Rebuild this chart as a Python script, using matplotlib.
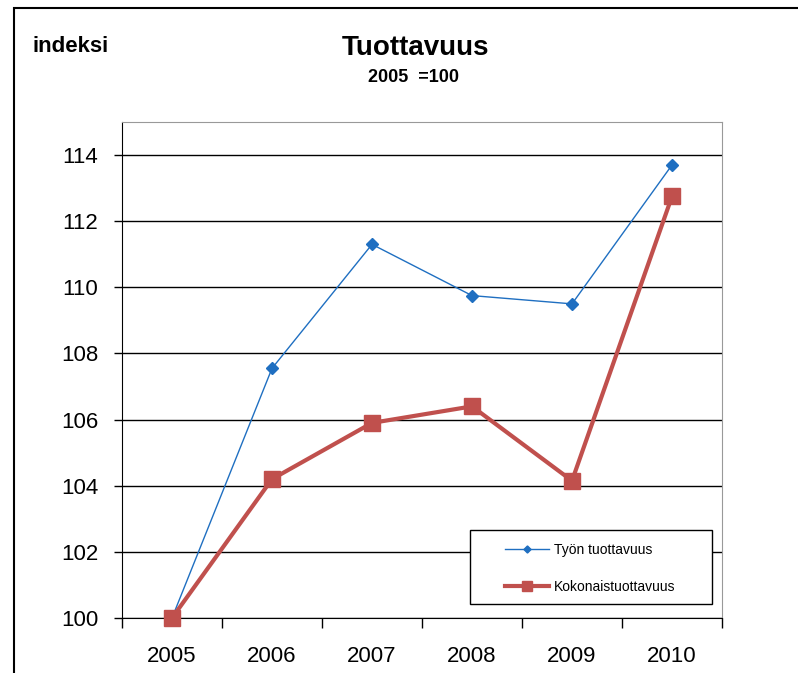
import numpy as np
import matplotlib.pyplot as plt
from matplotlib.patches import Rectangle

plt.rcParams['font.family'] = ['Liberation Sans', 'DejaVu Sans']

#%%------------------------ DATA ----------------------------------------------
years = ['2005', '2006', '2007', '2008', '2009', '2010']
tyon = [100.0, 107.55, 111.3, 109.75, 109.5, 113.7]
kokonais = [100.0, 104.2, 105.9, 106.4, 104.15, 112.75]
labels = ['Työn tuottavuus', 'Kokonaistuottavuus']
colors = ['#1f6fc1', '#c0504d']
#-----------------------------------------------------------------------------

W, H = 798, 673
fig = plt.figure(figsize=(W / 100, H / 100), dpi=100)
ax = fig.add_axes([122 / W, 1 - 618 / H, 600 / W, 496 / H])

# outer chart frame (left and top edges visible)
fig.patches.append(Rectangle((14 / W, -0.1), 1.2, 1.1 - 8 / H, transform=fig.transFigure,
                             fill=False, edgecolor='black', linewidth=1.5))

x = np.arange(len(years))
ax.plot(x, tyon, color=colors[0], linewidth=1, marker='D', markersize=6,
        label=labels[0], clip_on=False, zorder=3)
ax.plot(x, kokonais, color=colors[1], linewidth=3, marker='s', markersize=12,
        label=labels[1], clip_on=False, zorder=3)

ax.set_xlim(-0.5, len(years) - 0.5)
ax.set_ylim(100, 115)
ax.set_yticks(np.arange(100, 115, 2))
ax.set_xticks(x)
ax.set_xticklabels(years)
ax.set_xticks(np.arange(-0.5, len(years)), minor=True)
ax.tick_params(axis='x', which='major', length=0, pad=20, labelsize=16)
ax.tick_params(axis='x', which='minor', length=7, width=1, direction='out')
ax.tick_params(axis='y', length=6, width=1, direction='out', labelsize=16, pad=11)
ax.grid(axis='y', color='black', linewidth=1)
ax.set_axisbelow(True)

for s in ['top', 'right']:
    ax.spines[s].set_color('#999999')
ax.spines['left'].set_color('black')
ax.spines['bottom'].set_color('black')

# legend box drawn separately so the entries can sit indented like the original
ax.add_patch(Rectangle((0.58, 0.0282), 0.4033, 0.1492, transform=ax.transAxes,
                       facecolor='white', edgecolor='black', linewidth=1, zorder=4))
leg = ax.legend(loc='upper left', bbox_to_anchor=(0.638, 0.151), frameon=False,
                fontsize=10, markerscale=0.6, handlelength=3.2, handletextpad=0.35,
                labelspacing=1.65, borderpad=0, borderaxespad=0)
leg.set_zorder(5)

fig.text(33 / W, 1 - 46 / H, 'indeksi', fontsize=16, fontweight='bold', va='center', ha='left')
fig.text(415 / W, 1 - 48 / H, 'Tuottavuus', fontsize=20, fontweight='bold', va='center', ha='center')
fig.text(414 / W, 1 - 77 / H, '2005  =100', fontsize=13, fontweight='bold', va='center', ha='center')

fig.savefig('out.png', dpi=100)
